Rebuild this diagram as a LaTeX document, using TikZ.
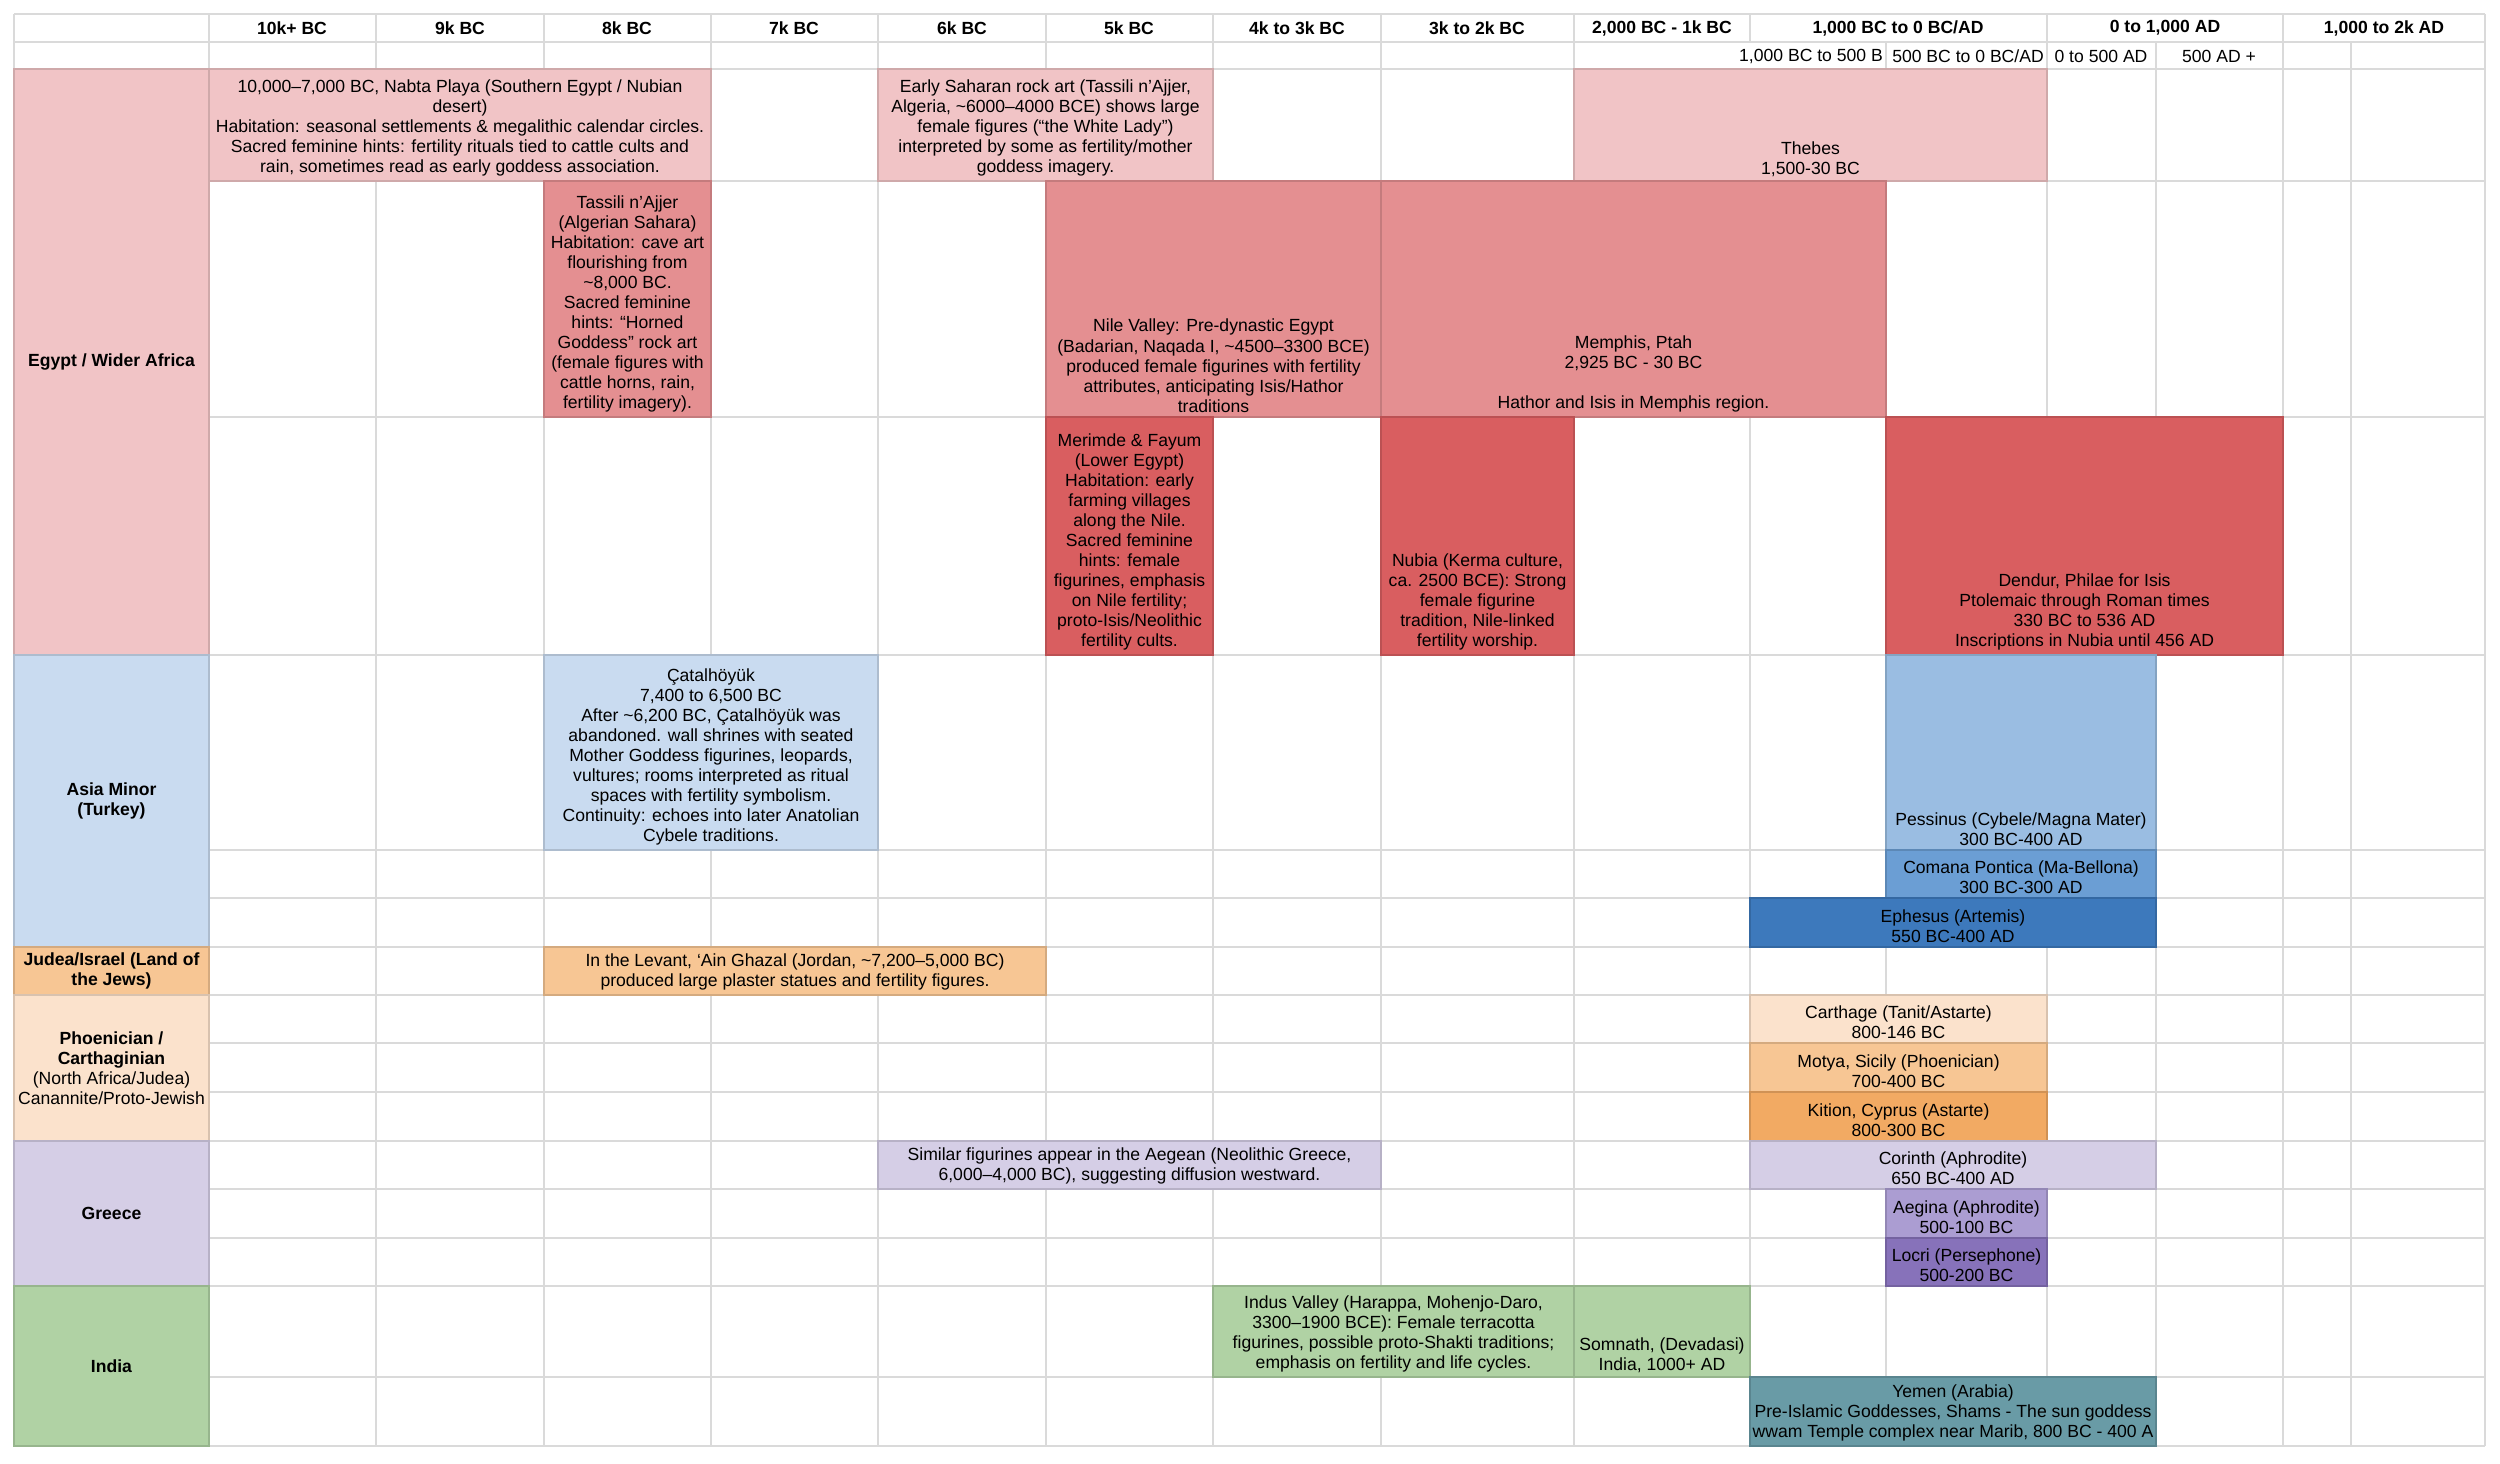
\documentclass[tikz,border=0pt]{standalone}
\usepackage{fontspec}
\setmainfont{Liberation Sans}
\usepackage{xcolor}

\definecolor{gridgray}{RGB}{218,218,218}
\definecolor{egyptlight}{RGB}{241,196,198}
\definecolor{egyptmid}{RGB}{228,143,145}
\definecolor{egyptdark}{RGB}{217,94,96}
\definecolor{asialight}{RGB}{201,219,240}
\definecolor{asiamid}{RGB}{154,189,226}
\definecolor{asiablue}{RGB}{107,158,212}
\definecolor{asiadark}{RGB}{61,121,188}
\definecolor{judeaorange}{RGB}{247,198,148}
\definecolor{phoenlight}{RGB}{251,226,204}
\definecolor{phoenmid}{RGB}{247,198,148}
\definecolor{phoendark}{RGB}{242,170,99}
\definecolor{greecelight}{RGB}{213,206,230}
\definecolor{greecemid}{RGB}{171,157,210}
\definecolor{greecedark}{RGB}{135,114,186}
\definecolor{indiagreen}{RGB}{176,210,164}
\definecolor{yementeal}{RGB}{105,155,166}

% x1, x2, y1, y2, colour, name, text  (text sits at the bottom of the cell)
\newcommand{\spancell}[7]{%
  \filldraw[fill=#5, draw=#5!86!black, line width=0.4pt] (#1,#3) rectangle (#2,#4);
  \node[celltxt, anchor=south] (#6) at ({(#1+#2)/2},{#4-4}) {#7};}
% same, text centred (row labels)
\newcommand{\labelcell}[7]{%
  \filldraw[fill=#5, draw=#5!86!black, line width=0.4pt] (#1,#3) rectangle (#2,#4);
  \node[celltxt] (#6) at ({(#1+#2)/2},{(#3+#4)/2}) {#7};}

\begin{document}
\begin{tikzpicture}[
    x=0.01cm, y=-0.01cm,
    celltxt/.style={font=\fontsize{5}{5.7}\selectfont, align=center, inner sep=0pt},
    hdr/.style={celltxt, font=\fontsize{5}{5.7}\selectfont\bfseries},
    gridv/.style={draw=gridgray, line width=0.4pt},
    gridh/.style={draw=gridgray, line width=0.6pt}
  ]
  \useasboundingbox (0,0) rectangle (2500,1463);
  \fill[white] (0,0) rectangle (2500,1463);

  % grid
  \foreach \gx in {14,209,376,544,711,878,1046,1213,1381,1574,2047,2283,2485}
    \draw[gridv] (\gx,14) -- (\gx,1446);
  \foreach \gx in {1886,2156,2351}
    \draw[gridv] (\gx,42) -- (\gx,1446);
  \draw[gridv] (1750,14) -- (1750,42);
  \draw[gridv] (1750,69) -- (1750,1446);
  \foreach \gy in {14,42,69,181,417,655,850,898,947,995,1043,1092,1141,1189,1238,1286,1377,1446}
    \draw[gridh] (14,\gy) -- (2485,\gy);

  % column headers
  \foreach \cx/\lbl [count=\i] in {292/10k+ BC, 460/9k BC, 627/8k BC, 794/7k BC,
      962/6k BC, 1129/5k BC, 1297/4k to 3k BC, 1477/3k to 2k BC,
      1662/{2,000 BC - 1k BC}, 1898/{1,000 BC to 0 BC/AD}, 2165/{0 to 1,000 AD},
      2384/{1,000 to 2k AD}}
    \node[hdr] (hd\i) at (\cx,28) {\lbl};
  \foreach \cx/\lbl [count=\i] in {1811/{1,000 BC to 500 B}, 1968/{500 BC to 0 BC/AD},
      2101/0 to 500 AD, 2219/500 AD +}
    \node[celltxt] (sub\i) at (\cx,56) {\lbl};

  % Egypt / Wider Africa
  \labelcell{14}{209}{69}{655}{egyptlight}{egypt}{\bfseries Egypt / Wider Africa}
  \spancell{209}{711}{69}{181}{egyptlight}{nabta}{10,000–7,000 BC, Nabta Playa (Southern Egypt / Nubian\\desert)\\Habitation: seasonal settlements \& megalithic calendar circles.\\Sacred feminine hints: fertility rituals tied to cattle cults and\\rain, sometimes read as early goddess association.}
  \spancell{878}{1213}{69}{181}{egyptlight}{saharan}{Early Saharan rock art (Tassili n’Ajjer,\\Algeria, \textasciitilde6000–4000 BCE) shows large\\female figures (“the White Lady”)\\interpreted by some as fertility/mother\\goddess imagery.}
  \spancell{1574}{2047}{69}{181}{egyptlight}{thebes}{Thebes\\1,500-30 BC}
  \spancell{544}{711}{181}{417}{egyptmid}{tassili}{Tassili n’Ajjer\\(Algerian Sahara)\\Habitation: cave art\\flourishing from\\\textasciitilde8,000 BC.\\Sacred feminine\\hints: “Horned\\Goddess” rock art\\(female figures with\\cattle horns, rain,\\fertility imagery).}
  \spancell{1046}{1381}{181}{417}{egyptmid}{nile}{Nile Valley: Pre-dynastic Egypt\\(Badarian, Naqada I, \textasciitilde4500–3300 BCE)\\produced female figurines with fertility\\attributes, anticipating Isis/Hathor\\traditions}
  \spancell{1381}{1886}{181}{417}{egyptmid}{memphis}{Memphis, Ptah\\2,925 BC - 30 BC\\~\\Hathor and Isis in Memphis region.}
  \spancell{1046}{1213}{417}{655}{egyptdark}{merimde}{Merimde \& Fayum\\(Lower Egypt)\\Habitation: early\\farming villages\\along the Nile.\\Sacred feminine\\hints: female\\figurines, emphasis\\on Nile fertility;\\proto-Isis/Neolithic\\fertility cults.}
  \spancell{1381}{1574}{417}{655}{egyptdark}{nubia}{Nubia (Kerma culture,\\ca. 2500 BCE): Strong\\female figurine\\tradition, Nile-linked\\fertility worship.}
  \spancell{1886}{2283}{417}{655}{egyptdark}{dendur}{Dendur, Philae for Isis\\Ptolemaic through Roman times\\330 BC to 536 AD\\Inscriptions in Nubia until 456 AD}

  % Asia Minor
  \labelcell{14}{209}{655}{947}{asialight}{asia}{\bfseries Asia Minor\\\bfseries (Turkey)}
  \spancell{544}{878}{655}{850}{asialight}{catal}{Çatalhöyük\\7,400 to 6,500 BC\\After \textasciitilde6,200 BC, Çatalhöyük was\\abandoned. wall shrines with seated\\Mother Goddess figurines, leopards,\\vultures; rooms interpreted as ritual\\spaces with fertility symbolism.\\Continuity: echoes into later Anatolian\\Cybele traditions.}
  \spancell{1886}{2156}{655}{850}{asiamid}{pessinus}{Pessinus (Cybele/Magna Mater)\\300 BC-400 AD}
  \spancell{1886}{2156}{850}{898}{asiablue}{comana}{Comana Pontica (Ma-Bellona)\\300 BC-300 AD}
  \spancell{1750}{2156}{898}{947}{asiadark}{ephesus}{Ephesus (Artemis)\\550 BC-400 AD}

  % Judea / Israel
  \labelcell{14}{209}{947}{995}{judeaorange}{judea}{\bfseries Judea/Israel (Land of\\\bfseries the Jews)}
  \spancell{544}{1046}{947}{995}{judeaorange}{levant}{In the Levant, ‘Ain Ghazal (Jordan, \textasciitilde7,200–5,000 BC)\\produced large plaster statues and fertility figures.}

  % Phoenician / Carthaginian
  \labelcell{14}{209}{995}{1141}{phoenlight}{phoen}{\bfseries Phoenician /\\\bfseries Carthaginian\\(North Africa/Judea)\\Canannite/Proto-Jewish}
  \spancell{1750}{2047}{995}{1043}{phoenlight}{carthage}{Carthage (Tanit/Astarte)\\800-146 BC}
  \spancell{1750}{2047}{1043}{1092}{phoenmid}{motya}{Motya, Sicily (Phoenician)\\700-400 BC}
  \spancell{1750}{2047}{1092}{1141}{phoendark}{kition}{Kition, Cyprus (Astarte)\\800-300 BC}

  % Greece
  \labelcell{14}{209}{1141}{1286}{greecelight}{greece}{\bfseries Greece}
  \spancell{878}{1381}{1141}{1189}{greecelight}{aegean}{Similar figurines appear in the Aegean (Neolithic Greece,\\6,000–4,000 BC), suggesting diffusion westward.}
  \spancell{1750}{2156}{1141}{1189}{greecelight}{corinth}{Corinth (Aphrodite)\\650 BC-400 AD}
  \spancell{1886}{2047}{1189}{1238}{greecemid}{aegina}{Aegina (Aphrodite)\\500-100 BC}
  \spancell{1886}{2047}{1238}{1286}{greecedark}{locri}{Locri (Persephone)\\500-200 BC}

  % India
  \labelcell{14}{209}{1286}{1446}{indiagreen}{india}{\bfseries India}
  \spancell{1213}{1574}{1286}{1377}{indiagreen}{indus}{Indus Valley (Harappa, Mohenjo-Daro,\\3300–1900 BCE): Female terracotta\\figurines, possible proto-Shakti traditions;\\emphasis on fertility and life cycles.}
  \spancell{1574}{1750}{1286}{1377}{indiagreen}{somnath}{Somnath, (Devadasi)\\India, 1000+ AD}
  \spancell{1750}{2156}{1377}{1446}{yementeal}{yemen}{Yemen (Arabia)\\Pre-Islamic Goddesses, Shams - The sun goddess\\wwam Temple complex near Marib, 800 BC - 400 A}
\end{tikzpicture}
\end{document}
